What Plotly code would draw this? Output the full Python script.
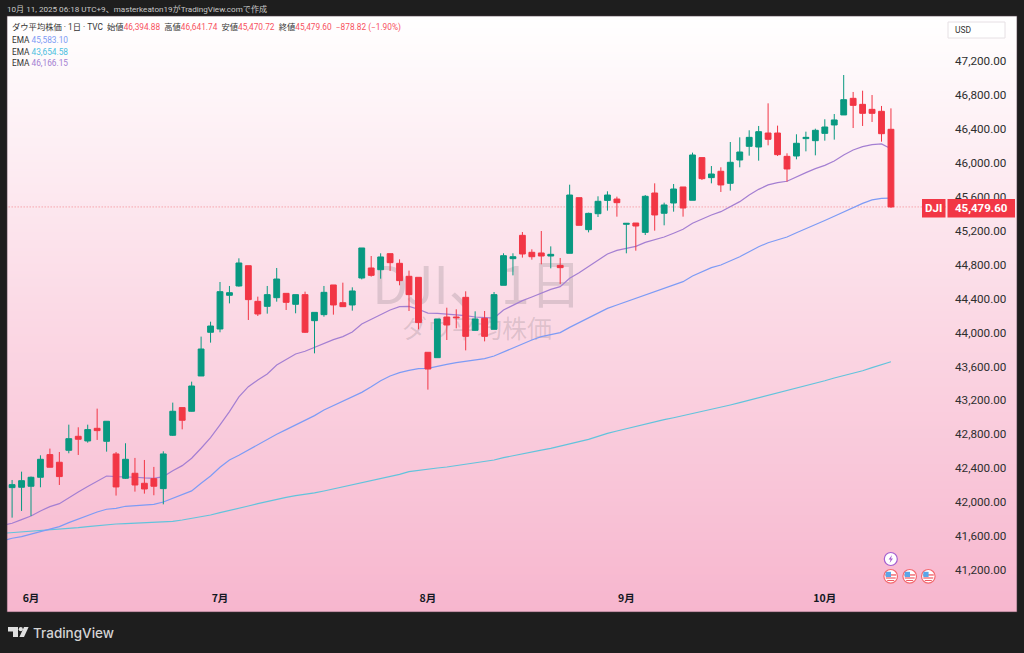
import plotly.graph_objects as go

sessions = list(range(-2, 92))
ema_sessions = [-3] + sessions
month_ticks = [0, 20, 42, 63, 84]
month_labels = ["6月", "7月", "8月", "9月", "10月"]
price_ticks = [41200, 41600, 42000, 42400, 42800, 43200, 43600, 44000, 44400, 44800, 45200, 45600, 46000, 46400, 46800, 47200]

opens = [42171,42175,42187,42293,42560,42470,42611,42776,42721,42870,
         42717,42568,42281,42340,42222,42277,42159,42788,43114,43071,
         43487,44002,44041,44438,44548,44787,44367,44308,44410,44461,
         44332,44446,44139,44210,44560,44351,44324,44642,44760,44740,
         44929,44815,44662,44650,43766,43703,44182,44182,44414,44025,
         44167,44037,44556,44870,45145,44945,44937,44901,44791,44933,
         45589,45212,45400,45557,45573,45275,45290,45180,45644,45405,
         45526,45715,45558,46061,45825,45900,45758,46033,46194,46186,
         46351,46351,46076,46080,46285,46261,46347,46446,46564,46760,
         46689,46630,46607,46394.88]
closes = [42206,42253,42293,42505,42411,42301,42748,42741,42855,42843,
          42953,42179,42505,42202,42155,42187,42568,43071,42965,43369,
          43805,44076,44481,44469,44819,44387,44218,44446,44630,44355,
          44446,44002,44237,44473,44324,44304,44489,44996,44673,44890,
          44823,44611,44446,44116,43569,44159,44088,44174,43954,44159,
          43954,44446,44905,44893,44925,44893,44901,44921,44764,45620,
          45263,45404,45546,45620,45530,45286,45255,45605,45385,45503,
          45691,45467,46092,45813,45868,45739,46006,46127,46300,46367,
          46277,46096,45927,46230,46300,46383,46422,46505,46744,46677,
          46583,46583,46343,45479.60]
highs = [42261,42359,42301,42552,42631,42591,42913,42882,42913,43102,
         42953,42591,42694,42521,42497,42415,42599,43173,43114,43420,
         43951,44127,44595,44548,44874,44787,44422,44548,44760,44461,
         44446,44481,44237,44548,44560,44587,44532,44996,44901,44933,
         44929,44862,44729,44650,43766,44159,44292,44273,44485,44249,
         44253,44477,44933,44933,45184,44980,45196,45015,44878,45742,
         45589,45412,45605,45664,45601,45286,45290,45620,45758,45530,
         45750,45715,46120,46061,45962,45947,46245,46300,46383,46434,
         46701,46438,46112,46336,46367,46402,46513,46575,47035,46835,
         46850,46799,46670,46641.74]
lows = [41817,41896,41837,42175,42411,42202,42576,42556,42701,42733,
        42595,42077,42273,42124,42100,42081,41974,42780,42858,43067,
        43487,43880,44002,44343,44540,44147,44194,44222,44363,44265,
        44226,43994,43754,44186,44210,44304,44257,44626,44658,44634,
        44725,44556,44253,44037,43326,43703,43911,44049,43789,44021,
        43895,44037,44556,44673,44882,44858,44803,44756,44571,44933,
        45263,45180,45361,45436,45365,44933,44964,45149,45200,45263,
        45424,45365,45558,45797,45758,45656,45672,45947,46084,46025,
        46206,46080,45778,46041,46135,46088,46261,46273,46564,46410,
        46434,46481,46249,45470.72]
ema_purple = [41725,
              41751,41794,41837,41896,41947,41982,42053,42120,42183,42250,
              42308,42301,42301,42293,42285,42281,42301,42371,42430,42517,
              42635,42760,42910,43067,43240,43361,43440,43510,43617,43683,
              43746,43778,43825,43872,43915,43951,44006,44100,44155,44218,
              44265,44304,44308,44273,44229,44226,44218,44206,44198,44182,
              44175,44170,44265,44324,44375,44418,44461,44508,44540,44638,
              44705,44776,44854,44925,44968,44988,45015,45062,45090,45125,
              45169,45216,45287,45338,45385,45424,45487,45542,45621,45687,
              45739,45766,45782,45837,45884,45931,45970,46021,46092,46151,
              46190,46214,46222,46166.15]
ema_blue = [41545,
            41574,41593,41621,41656,41684,41711,41758,41802,41845,41884,
            41916,41927,41951,41959,41967,41974,42002,42045,42081,42132,
            42222,42308,42411,42497,42552,42615,42674,42740,42800,42855,
            42910,42960,43020,43086,43137,43188,43235,43294,43361,43432,
            43487,43526,43554,43573,43577,43605,43624,43644,43660,43675,
            43691,43723,43770,43821,43872,43911,43950,43974,43998,44060,
            44116,44175,44233,44284,44324,44363,44398,44434,44473,44516,
            44556,44599,44666,44717,44764,44795,44842,44893,44952,45011,
            45058,45094,45125,45176,45227,45275,45320,45370,45420,45475,
            45522,45562,45581,45583.10]
ema_teal = [41632,
            41640,41648,41656,41660,41668,41679,41687,41699,41711,41723,
            41734,41742,41746,41750,41754,41758,41762,41774,41789,41809,
            41825,41848,41876,41899,41927,41954,41982,42009,42033,42056,
            42076,42088,42108,42131,42155,42178,42202,42229,42249,42273,
            42300,42327,42359,42375,42386,42402,42414,42430,42445,42461,
            42477,42497,42524,42548,42571,42595,42614,42634,42658,42685,
            42713,42740,42780,42811,42838,42866,42893,42921,42944,42972,
            42995,43019,43043,43066,43090,43117,43145,43172,43200,43227,
            43259,43286,43314,43341,43373,43400,43431,43463,43490,43522,
            43549,43585,43620,43654.58]

W, H = 1024, 653
PL, PR, PT, PB = 7, 1017, 16, 612
BLUE, TEAL, PURPLE = "#7d9bf5", "#62c3dc", "#a47fd2"
UP, DOWN = "#089981", "#f23645"
FONT = "Roboto, Noto Sans CJK JP, sans-serif"
CJK = "Noto Sans CJK JP, sans-serif"

def fx(x):
    return (x - PL) / (PR - PL)

def fy(y):
    return (PB - y) / (PB - PT)

fig = go.Figure()
# pane gradient on the full-pane axes
fig.add_trace(go.Heatmap(z=[[0, 0], [1, 1]], x=[0, 1], y=[0, 1], zsmooth="best", showscale=False, hoverinfo="skip",
                         zmin=0, zmax=1, colorscale=[[0, "#f7b6ce"], [0.5, "#fbd9e5"], [1, "#ffffff"]], xaxis="x", yaxis="y"))
# watermark, under the candles
fig.add_trace(go.Scatter(x=[fx(477), fx(477)], y=[fy(291), fy(332)], mode="text", text=["DJI、1日", "ダウ平均株価"],
                         textfont=dict(family=CJK, size=[52, 25], color="rgba(70,70,75,0.16)"), hoverinfo="skip", showlegend=False, xaxis="x", yaxis="y"))
# last price line and EMAs
fig.add_trace(go.Scatter(x=[-3, 97], y=[closes[-1], closes[-1]], mode="lines", line=dict(color="rgba(242,54,69,0.7)", width=0.8, dash="1px,2px"),
                         showlegend=False, xaxis="x2", yaxis="y2"))
for vals, col in [(ema_teal, TEAL), (ema_blue, BLUE), (ema_purple, PURPLE)]:
    fig.add_trace(go.Scatter(x=ema_sessions, y=vals, mode="lines", line=dict(color=col, width=1.2), showlegend=False, xaxis="x2", yaxis="y2"))
fig.add_trace(go.Candlestick(x=sessions, open=opens, high=highs, low=lows, close=closes, whiskerwidth=0,
                             increasing=dict(line=dict(color=UP, width=1), fillcolor=UP),
                             decreasing=dict(line=dict(color=DOWN, width=1), fillcolor=DOWN),
                             showlegend=False, xaxis="x3", yaxis="y3"))

x_range = [(PL - 31) / 9.45, (946 - 31) / 9.45]
y_range = [47200 - (585 - 61) * 11.788, 47200 + (61 - PT) * 11.788]
dom_x = [0, fx(946)]
dom_y = [fy(585), 1]
hidden = dict(visible=False, fixedrange=True)

shapes = [dict(type="rect", xref="paper", yref="paper", x0=0, x1=1, y0=0, y1=1, line=dict(color="rgba(70,55,65,0.6)", width=1), fillcolor="rgba(0,0,0,0)")]

def rect(x0, y0, x1, y1, fill, line=None, lw=0):
    shapes.append(dict(type="rect", xref="paper", yref="paper", x0=fx(x0), x1=fx(x1), y0=fy(y0), y1=fy(y1), fillcolor=fill, line=dict(color=line or fill, width=lw)))

def circle(cx, cy, r, fill, line, lw=1):
    shapes.append(dict(type="circle", xref="paper", yref="paper", x0=fx(cx - r), x1=fx(cx + r), y0=fy(cy - r), y1=fy(cy + r), fillcolor=fill, line=dict(color=line, width=lw)))

def poly(points, fill):
    d = "M " + " L ".join(f"{fx(a):.5f},{fy(b):.5f}" for a, b in points) + " Z"
    shapes.append(dict(type="path", xref="paper", yref="paper", path=d, fillcolor=fill, line=dict(width=0)))

# USD box
rect(948, 22, 1005, 38, "#ffffff", "#e6e0e4", 1)
# price tags
rect(922, 199, 945.5, 217.5, DOWN)
rect(947.5, 199, 1015, 217.5, DOWN)
# events
circle(890.8, 559, 6.5, "#ffffff", "#a45fd0", 1.2)
poly([(892, 555), (888.6, 559.6), (890.6, 559.6), (889.6, 563), (893, 558.4), (891, 558.4)], "#a45fd0")
for cx in (890.7, 909.7, 928.3):
    circle(cx, 576.3, 6.8, "#ffffff", "#f4696f", 1.2)
    rect(cx - 5.5, 574.3, cx + 5.5, 575.6, "#ef5a64")
    rect(cx - 5, 577.4, cx + 5, 578.6, "#ef5a64")
    rect(cx - 3.5, 580, cx + 3.5, 581, "#ef5a64")
    rect(cx - 5, 571.8, cx + 0.3, 577, "#5aa6e8")
# TradingView mark
poly([(8, 627), (18, 627), (18, 637), (13, 637), (13, 631.6), (8, 631.6)], "#e0e0e0")
circle(20.8, 629.2, 2.1, "#e0e0e0", "#e0e0e0", 0)
poly([(24, 627), (28.6, 627), (24, 637), (19.4, 637)], "#e0e0e0")

ann = []
def label(x, y, text, size=8.3, color="#333333", anchor="left", family=FONT, weight=None):
    font = dict(size=size, color=color, family=family)
    if weight:
        font["weight"] = weight
    ann.append(dict(x=fx(x), y=fy(y), xref="paper", yref="paper", text=text, showarrow=False, xanchor=anchor, yanchor="middle",
                    font=font, align="left", borderpad=0, borderwidth=0))

red = "#f7525f"
def rs(t):
    return f'<span style="color:{red}">{t}</span>'

label(7, 9, "10月 11, 2025 06:18 UTC+9、masterkeaton19がTradingView.comで作成", 8.1, "#c9c9c9")
label(12, 28, "ダウ平均株価 · 1日 · TVC  始値" + rs("46,394.88") + "  高値" + rs("46,641.74") + "  安値" + rs("45,470.72") + "  終値" + rs("45,479.60") + "  " + rs("−878.82 (−1.90%)"))
label(12, 40, f'EMA <span style="color:{BLUE}">45,583.10</span>')
label(12, 51.5, f'EMA <span style="color:#4cc0e0">43,654.58</span>')
label(12, 63, f'EMA <span style="color:{PURPLE}">46,166.15</span>')
label(955, 30, "USD", 8.5, "#333333")
label(933.7, 208.3, "<b>DJI</b>", 11.5, "#ffffff", "center")
label(981.2, 208.3, "<b>45,479.60</b>", 11.5, "#ffffff", "center")
label(33, 632.5, "TradingView", 13.5, "#d4d4d4", family="Inter, Roboto, sans-serif", weight=500)

fig.update_layout(
    width=W, height=H, autosize=False,
    margin=dict(l=PL, r=W - PR, t=PT, b=H - PB, pad=0),
    paper_bgcolor="#1e1e1e", plot_bgcolor="rgba(0,0,0,0)",
    font=dict(family=FONT), showlegend=False, hovermode=False, boxgap=0.12,
    xaxis=dict(range=[0, 1], domain=[0, 1], anchor="y", **hidden),
    yaxis=dict(range=[0, 1], domain=[0, 1], anchor="x", **hidden),
    xaxis2=dict(range=x_range, domain=dom_x, anchor="y2", tickvals=month_ticks, ticktext=month_labels, showgrid=False, zeroline=False,
                showline=False, ticks="", tickangle=0, tickfont=dict(size=10.5, color="#131722", family=CJK, weight=700), ticklabelstandoff=5, fixedrange=True),
    yaxis2=dict(range=y_range, domain=dom_y, anchor="x2", side="right", tickvals=price_ticks, tickformat=",.2f", showgrid=False, zeroline=False,
                showline=False, ticks="", tickfont=dict(size=11.7, color="#2f2f2f"), ticklabelstandoff=8, fixedrange=True),
    xaxis3=dict(range=x_range, domain=dom_x, anchor="y3", overlaying="x2", rangeslider=dict(visible=False), **hidden),
    yaxis3=dict(range=y_range, domain=dom_y, anchor="x3", overlaying="y2", **hidden),
    shapes=shapes, annotations=ann,
)
fig.write_html("out.html", config=dict(displayModeBar=False),
               post_script="document.body.style.margin='0';document.body.style.overflow='hidden';document.body.style.background='#1e1e1e';")
